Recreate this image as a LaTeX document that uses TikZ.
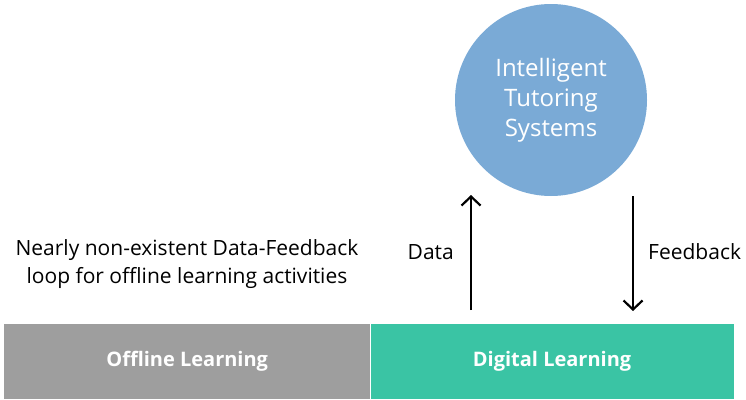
\documentclass[tikz,border=0pt]{standalone}
\usepackage{fontspec}
\setmainfont{Open Sans}
\usepackage{tikz}
\usetikzlibrary{arrows.meta, positioning}
\definecolor{offgray}{RGB}{158,158,158}
\definecolor{diggreen}{RGB}{58,196,164}
\definecolor{itsblue}{RGB}{122,170,214}
\tikzstyle{arrow} = [line width=2.2pt,-{Straight Barb[length=9pt,width=19pt]}]
\tikzstyle{band} = [rectangle, minimum width=366pt, minimum height=75pt, inner sep=0pt, text=white, font=\fontsize{20}{24}\selectfont\bfseries]
\tikzstyle{label} = [font=\fontsize{21}{28}\selectfont, text=black, inner sep=0pt]

\begin{document}
\begin{tikzpicture}[x=1pt, y=-1pt]
\useasboundingbox (0,0) rectangle (746,399);
%----------------------------------------------------------------------------
% Learning bands and tutoring system
\node (offline) [band, fill=offgray, anchor=north west] at (4,324) {Offline Learning};
\node (digital) [band, fill=diggreen, right=0pt of offline, minimum width=363pt] {Digital Learning};
\node (its) [circle, fill=itsblue, minimum size=192pt, inner sep=0pt, text=white, align=center,
  font=\fontsize{24}{30}\selectfont] at (551,100) {Intelligent\\Tutoring\\Systems};

\coordinate (dataFoot) at (471,310);
\coordinate (dataHead) at (471,195);
\coordinate (fbFoot) at (633,196);
\coordinate (fbHead) at (633,311);

%----------------------------------------------------------------------------
% Lines
\draw [arrow] (dataFoot) -- (dataHead);
\draw [arrow] (fbFoot) -- (fbHead);

%----------------------------------------------------------------------------
% Labels
\node (data) [label, anchor=east] at (454,252) {Data};
\node (feedback) [label, anchor=west] at (648,252) {Feedback};
\node (note) [label, align=center] at (187,264) {Nearly non-existent Data-Feedback\\loop for offline learning activities};

\end{tikzpicture}
\end{document}
